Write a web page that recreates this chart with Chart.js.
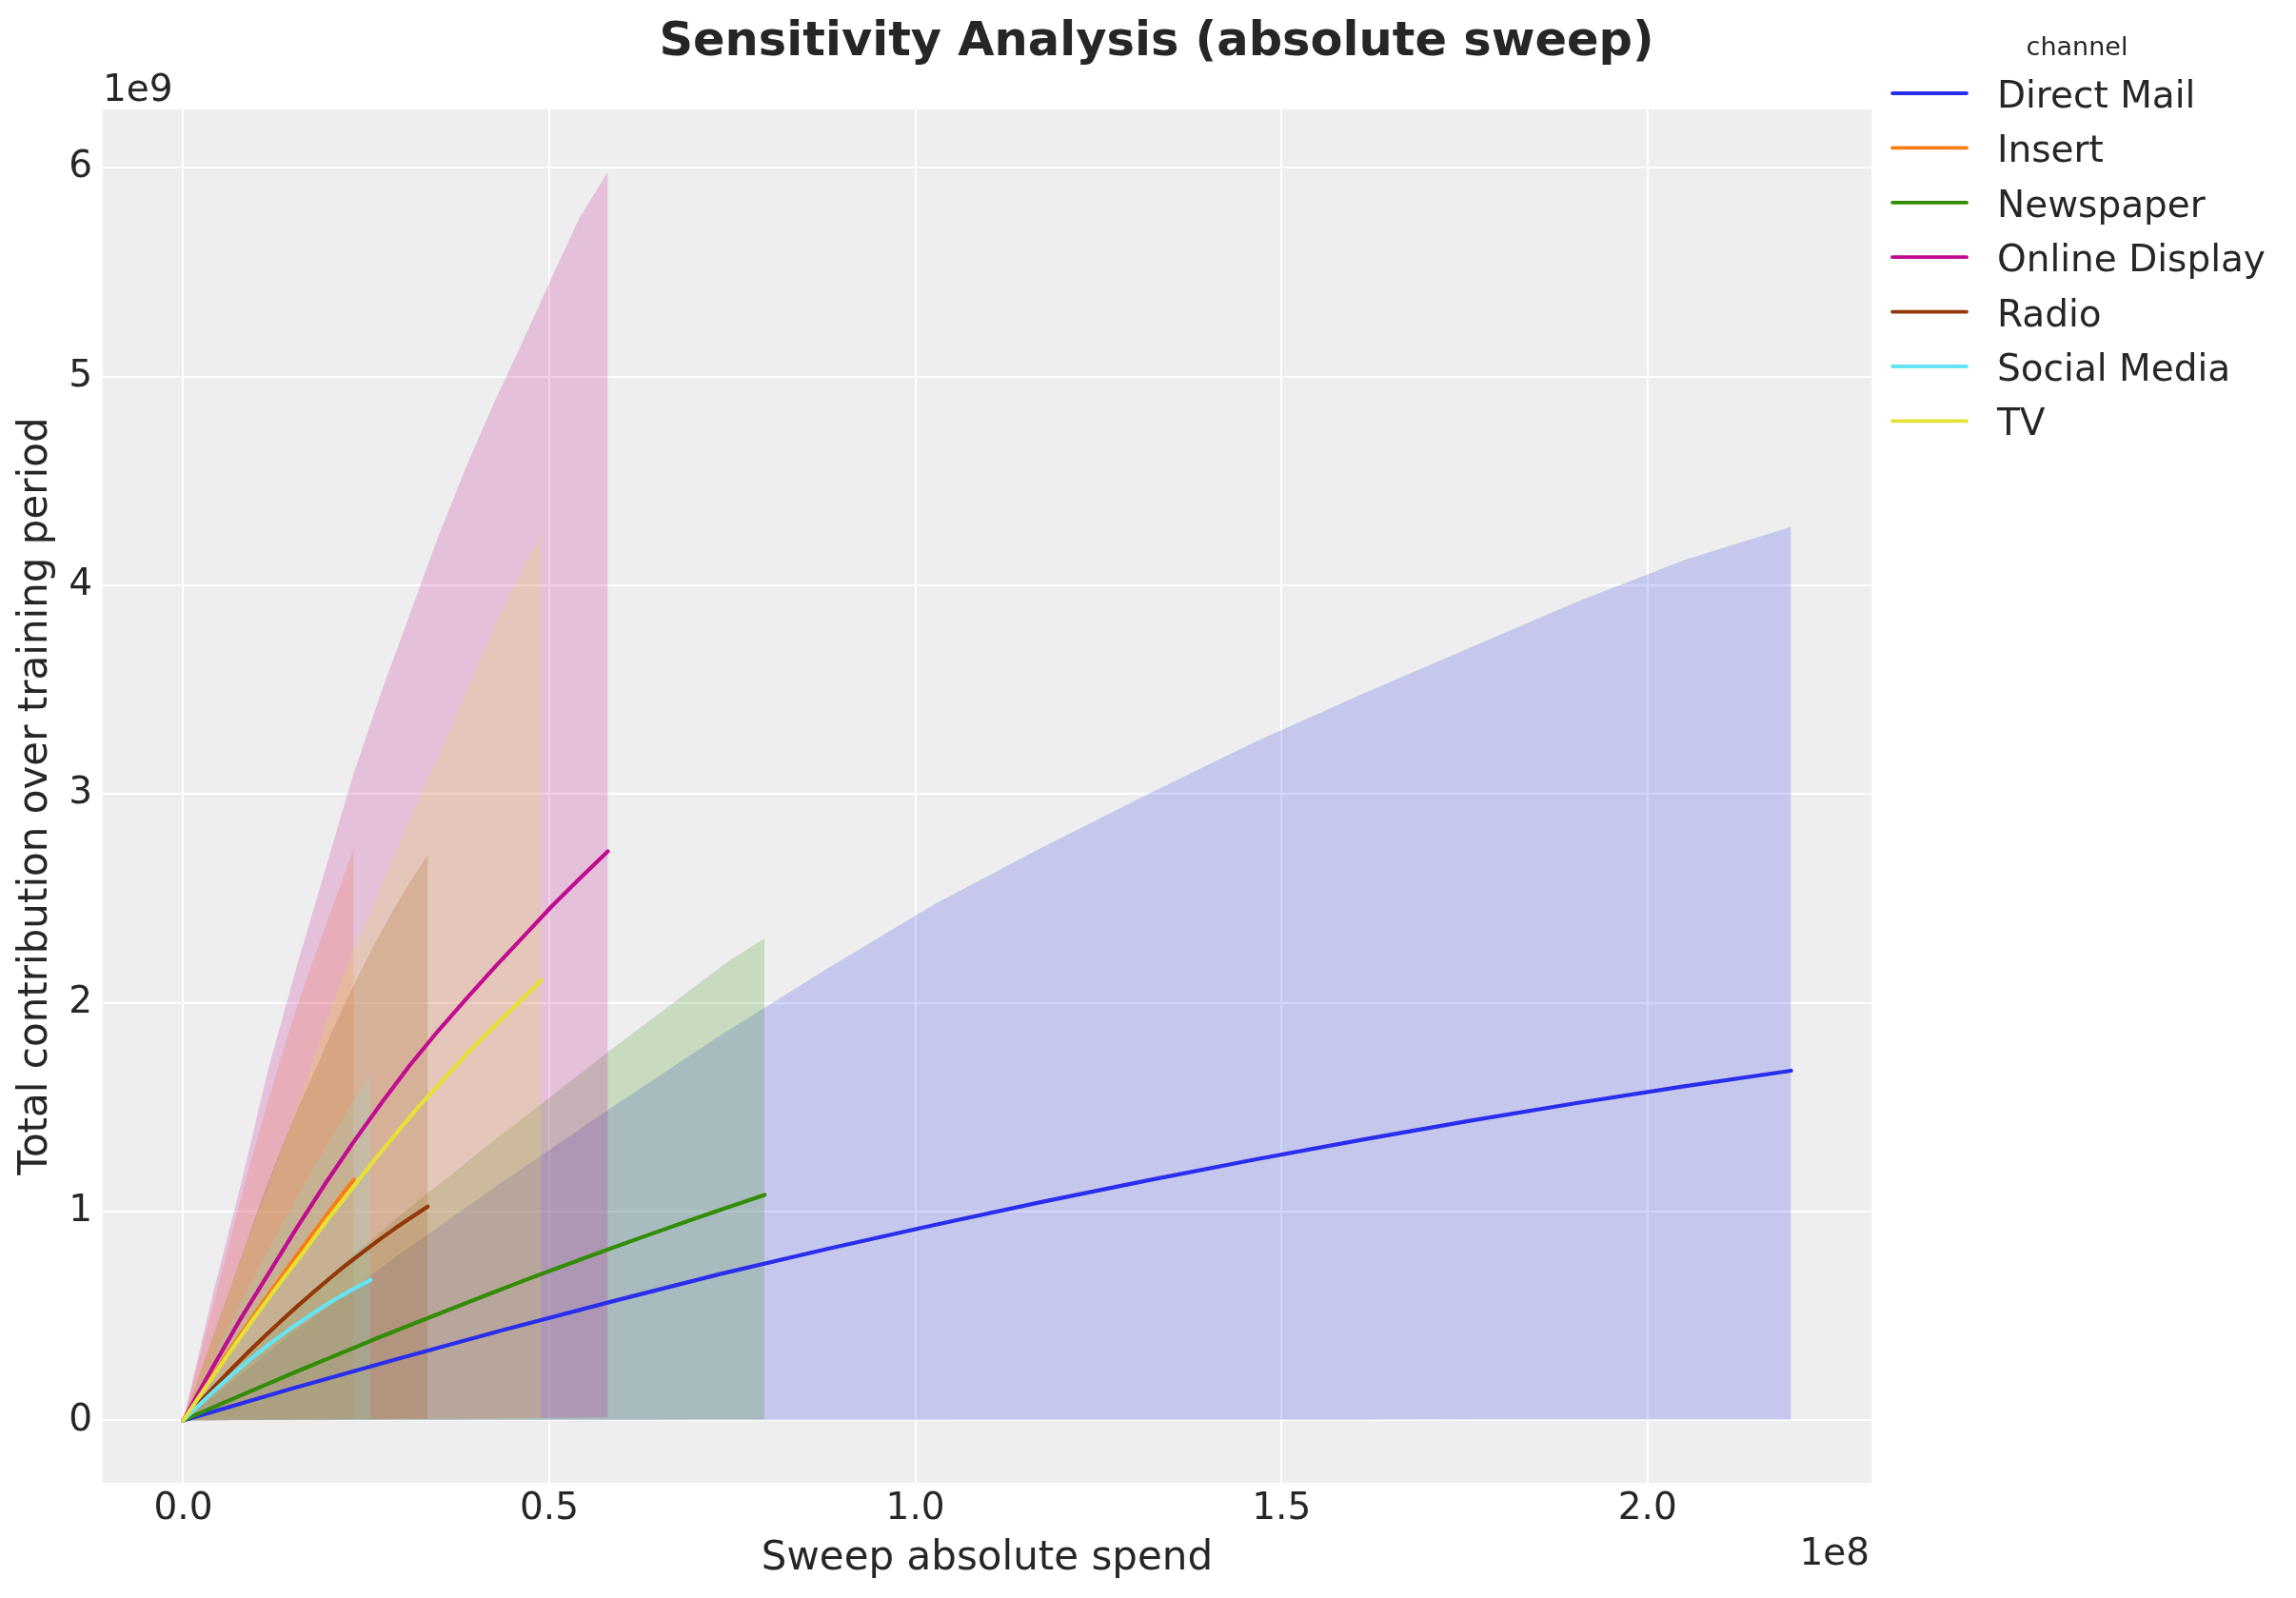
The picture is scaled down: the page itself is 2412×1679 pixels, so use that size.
<!DOCTYPE html>
<html>
<head>
<meta charset="utf-8">
<title>Sensitivity Analysis (absolute sweep)</title>
<script src="https://cdn.jsdelivr.net/npm/chart.js@4/dist/chart.umd.min.js"></script>
<style>
  html, body { margin: 0; padding: 0; background: #ffffff; }
  #wrap { width: 2412px; height: 1679px; }
</style>
</head>
<body>
<div id="wrap"><canvas id="chart" width="2412" height="1679"></canvas></div>
<script>
// ── data (spend in units of 1e8, contribution in units of 1e9) ──────────────
const channels = ["Direct Mail", "Insert", "Newspaper", "Online Display", "Radio", "Social Media", "TV"];
const colors   = ["#2a2eec", "#fa7c17", "#328c06", "#c10c90", "#933708", "#65e5f3", "#e6e135"];

const xTicks = [0, 0.5, 1.0, 1.5, 2.0];
const yTicks = [0, 1, 2, 3, 4, 5, 6];

const directMailSpend = [0, 0.146, 0.293, 0.439, 0.586, 0.732, 0.878, 1.025, 1.171, 1.318, 1.464, 1.611, 1.757, 1.903, 2.050, 2.196];
const directMailMean  = [0, 0.150, 0.295, 0.435, 0.570, 0.700, 0.820, 0.935, 1.045, 1.150, 1.250, 1.345, 1.435, 1.520, 1.600, 1.675];
const directMailUpper = [0, 0.41, 0.79, 1.15, 1.50, 1.84, 2.16, 2.47, 2.74, 3.00, 3.25, 3.48, 3.70, 3.92, 4.12, 4.28];
const directMailLower = [0, 0.001, 0.001, 0.001, 0.002, 0.002, 0.002, 0.002, 0.003, 0.003, 0.003, 0.003, 0.004, 0.004, 0.004, 0.004];

const insertSpend = [0, 0.0155, 0.0311, 0.0466, 0.0621, 0.0777, 0.0932, 0.1087, 0.1243, 0.1398, 0.1553, 0.1709, 0.1864, 0.2019, 0.2175, 0.233];
const insertMean  = [0, 0.083, 0.166, 0.247, 0.328, 0.408, 0.486, 0.564, 0.641, 0.717, 0.792, 0.866, 0.939, 1.012, 1.083, 1.153];
const insertUpper = [0, 0.21, 0.42, 0.63, 0.84, 1.05, 1.25, 1.44, 1.63, 1.81, 1.98, 2.14, 2.29, 2.44, 2.59, 2.74];
const insertLower = [0, 0.001, 0.001, 0.001, 0.002, 0.002, 0.002, 0.003, 0.003, 0.003, 0.004, 0.004, 0.004, 0.005, 0.005, 0.005];

const newspaperSpend = [0, 0.053, 0.106, 0.159, 0.212, 0.265, 0.318, 0.371, 0.424, 0.476, 0.529, 0.582, 0.635, 0.688, 0.741, 0.794];
const newspaperMean  = [0, 0.081, 0.161, 0.240, 0.317, 0.394, 0.468, 0.541, 0.614, 0.684, 0.753, 0.821, 0.888, 0.953, 1.017, 1.080];
const newspaperUpper = [0, 0.20, 0.38, 0.56, 0.73, 0.89, 1.045, 1.19, 1.34, 1.48, 1.625, 1.77, 1.91, 2.05, 2.19, 2.31];
const newspaperLower = [0, 0.001, 0.001, 0.001, 0.002, 0.002, 0.002, 0.002, 0.003, 0.003, 0.003, 0.003, 0.003, 0.004, 0.004, 0.004];

const onlineSpend = [0, 0.0387, 0.0773, 0.116, 0.1547, 0.1933, 0.232, 0.2707, 0.3093, 0.348, 0.3867, 0.4253, 0.464, 0.5027, 0.5413, 0.58];
const onlineMean  = [0, 0.245, 0.48, 0.70, 0.92, 1.13, 1.33, 1.52, 1.70, 1.865, 2.02, 2.17, 2.315, 2.46, 2.595, 2.726];
const onlineUpper = [0, 0.58, 1.11, 1.68, 2.17, 2.63, 3.09, 3.49, 3.86, 4.23, 4.57, 4.88, 5.17, 5.47, 5.76, 5.98];
const onlineLower = [0, 0.001, 0.002, 0.003, 0.004, 0.004, 0.005, 0.006, 0.007, 0.008, 0.009, 0.010, 0.011, 0.012, 0.013, 0.014];

const radioSpend = [0, 0.0223, 0.0445, 0.0668, 0.0891, 0.1113, 0.1336, 0.1559, 0.1781, 0.2004, 0.2227, 0.2449, 0.2672, 0.2895, 0.3117, 0.334];
const radioMean  = [0, 0.086, 0.169, 0.249, 0.328, 0.403, 0.476, 0.547, 0.615, 0.681, 0.745, 0.805, 0.864, 0.920, 0.973, 1.024];
const radioUpper = [0, 0.22, 0.44, 0.66, 0.88, 1.10, 1.30, 1.49, 1.66, 1.84, 2.01, 2.17, 2.32, 2.46, 2.59, 2.71];
const radioLower = [0, 0.001, 0.001, 0.002, 0.002, 0.003, 0.003, 0.004, 0.004, 0.004, 0.005, 0.005, 0.005, 0.006, 0.006, 0.006];

const socialSpend = [0, 0.0171, 0.0341, 0.0512, 0.0683, 0.0853, 0.1024, 0.1195, 0.1365, 0.1536, 0.1707, 0.1877, 0.2048, 0.2219, 0.2389, 0.256];
const socialMean  = [0, 0.059, 0.115, 0.170, 0.223, 0.274, 0.323, 0.370, 0.414, 0.457, 0.498, 0.537, 0.574, 0.609, 0.642, 0.673];
const socialUpper = [0, 0.127, 0.251, 0.374, 0.494, 0.611, 0.727, 0.840, 0.951, 1.060, 1.166, 1.270, 1.372, 1.472, 1.569, 1.665];
const socialLower = [0, 0.001, 0.001, 0.001, 0.002, 0.002, 0.002, 0.003, 0.003, 0.003, 0.003, 0.004, 0.004, 0.004, 0.004, 0.005];

const tvSpend = [0, 0.0326, 0.0652, 0.0978, 0.1304, 0.163, 0.1956, 0.2282, 0.2608, 0.2934, 0.326, 0.3586, 0.3912, 0.4238, 0.4564, 0.489];
const tvMean  = [0, 0.17, 0.335, 0.495, 0.65, 0.80, 0.955, 1.10, 1.245, 1.385, 1.52, 1.645, 1.77, 1.885, 1.995, 2.108];
const tvUpper = [0, 0.32, 0.64, 0.95, 1.26, 1.57, 1.91, 2.22, 2.48, 2.75, 3.01, 3.26, 3.53, 3.79, 4.03, 4.25];
const tvLower = [0, 0.001, 0.002, 0.002, 0.003, 0.003, 0.004, 0.005, 0.005, 0.006, 0.006, 0.007, 0.008, 0.008, 0.009, 0.010];

const spends = [directMailSpend, insertSpend, newspaperSpend, onlineSpend, radioSpend, socialSpend, tvSpend];
const means  = [directMailMean, insertMean, newspaperMean, onlineMean, radioMean, socialMean, tvMean];
const uppers = [directMailUpper, insertUpper, newspaperUpper, onlineUpper, radioUpper, socialUpper, tvUpper];
const lowers = [directMailLower, insertLower, newspaperLower, onlineLower, radioLower, socialLower, tvLower];

// ── helpers ─────────────────────────────────────────────────────────────────
const FONT = "'DejaVu Sans', 'Liberation Sans', sans-serif";
const INK = "#262626";

const pts = (xs, ys) => xs.map((x, i) => ({ x, y: ys[i] }));
const alpha = (hex, a) => {
  const n = parseInt(hex.slice(1), 16);
  return `rgba(${n >> 16},${(n >> 8) & 255},${n & 255},${a})`;
};

// lines first (reversed so the first channel is painted underneath),
// then the bands, last channel first so Direct Mail's band sits at the bottom
const order = channels.map((_, i) => i).reverse();
const datasets = [];
order.forEach(i => datasets.push({
  label: channels[i],
  data: pts(spends[i], means[i]),
  borderColor: colors[i], backgroundColor: colors[i],
  borderWidth: 4.2, borderCapStyle: "round", borderJoinStyle: "round",
  pointRadius: 0, tension: 0, fill: false,
}));
order.forEach(i => {
  datasets.push({
    label: channels[i] + " hdi", band: true,
    data: pts(spends[i], uppers[i]),
    borderWidth: 0, borderColor: "transparent",
    backgroundColor: alpha(colors[i], 0.2),
    pointRadius: 0, tension: 0, fill: "+1",
  });
  datasets.push({
    label: channels[i] + " low", band: true,
    data: pts(spends[i], lowers[i]),
    borderWidth: 0, borderColor: "transparent",
    pointRadius: 0, tension: 0, fill: false,
  });
});

// backdrop, title, offset labels and the outside legend
const paper = {
  id: "paper",
  beforeDraw(chart){
    const { ctx, chartArea: a } = chart;
    ctx.save();
    ctx.fillStyle = "#ffffff";
    ctx.fillRect(0, 0, chart.width, chart.height);
    ctx.fillStyle = "#eeeeee";
    ctx.fillRect(a.left, a.top, a.right - a.left, a.bottom - a.top);
    ctx.restore();
  },
  afterDraw(chart){
    const { ctx, chartArea: a } = chart;
    ctx.save();
    ctx.fillStyle = INK;
    ctx.textBaseline = "alphabetic";

    ctx.font = `bold 49.5px ${FONT}`;
    ctx.textAlign = "center";
    ctx.fillText("Sensitivity Analysis (absolute sweep)", 1215, 58);

    ctx.font = `39px ${FONT}`;
    ctx.textAlign = "left";
    ctx.fillText("1e9", a.left, 106);
    ctx.textAlign = "right";
    ctx.fillText("1e8", a.right - 2, 1644);

    ctx.font = `27px ${FONT}`;
    ctx.textAlign = "center";
    ctx.fillText("channel", 2182, 58);

    ctx.font = `39px ${FONT}`;
    ctx.textAlign = "left";
    channels.forEach((name, i) => {
      const y = 98 + i * 57.4;
      ctx.strokeStyle = colors[i];
      ctx.lineWidth = 3.8;
      ctx.lineCap = "round";
      ctx.beginPath(); ctx.moveTo(1988, y); ctx.lineTo(2066, y); ctx.stroke();
      ctx.fillText(name, 2098, y + 15);
    });
    ctx.restore();
  },
};

new Chart(document.getElementById("chart"), {
  type: "line",
  data: { datasets },
  plugins: [paper],
  options: {
    responsive: false, devicePixelRatio: 1, animation: false,
    layout: { padding: { left: 0, top: 115, right: 446, bottom: 0 } },
    plugins: {
      legend: { display: false },
      title: { display: false },
      tooltip: { enabled: false },
      filler: { drawTime: "beforeDatasetsDraw", propagate: false },
    },
    scales: {
      x: {
        type: "linear", min: -0.1098, max: 2.3058,
        afterFit: s => { s.height = 121; },
        afterBuildTicks: s => { s.ticks = xTicks.map(value => ({ value })); },
        grid: { color: "#ffffff", lineWidth: 2, drawTicks: false },
        border: { display: false },
        ticks: { autoSkip: false, maxRotation: 0, padding: 4, color: INK,
                  font: { family: FONT, size: 39, lineHeight: 1.2 },
                  callback: v => v.toFixed(1) },
        title: { display: true, text: "Sweep absolute spend", color: INK,
                 font: { family: FONT, size: 42, lineHeight: 1.2 },
                 padding: { top: 0, bottom: 16 } },
      },
      y: {
        type: "linear", min: -0.299, max: 6.279,
        afterFit: s => { s.width = 108; },
        afterBuildTicks: s => { s.ticks = yTicks.map(value => ({ value })); },
        grid: { color: "#ffffff", lineWidth: 2, drawTicks: false },
        border: { display: false },
        ticks: { padding: 11, color: INK,
                 font: { family: FONT, size: 39, lineHeight: 1.2 },
                 callback: v => String(v) },
        title: { display: true, text: "Total contribution over training period", color: INK,
                 font: { family: FONT, size: 42, lineHeight: 1.2 },
                 padding: { top: 13, bottom: 0 } },
      },
    },
  },
});
</script>
</body>
</html>
